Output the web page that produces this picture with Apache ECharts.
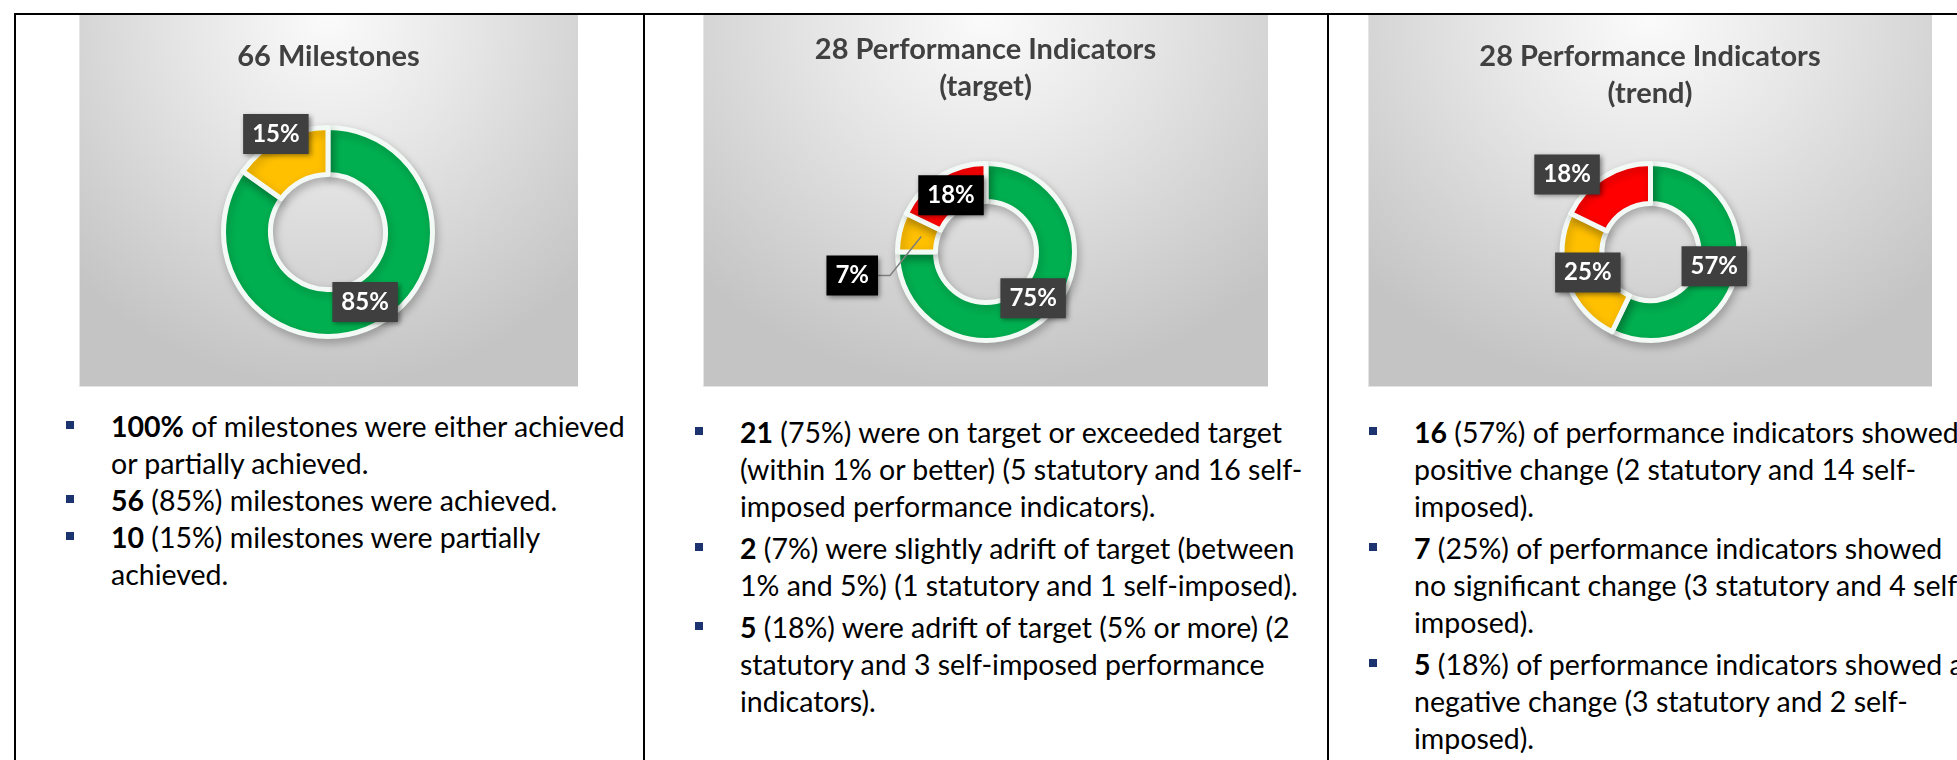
<!DOCTYPE html>
<html>
<head>
<meta charset="utf-8">
<script src="https://cdn.jsdelivr.net/npm/echarts@6/dist/echarts.min.js"></script>
<style>
  html, body { margin: 0; padding: 0; background: #fff; }
  body { width: 1957px; height: 760px; position: relative; overflow: hidden; font-family: Lato, 'Open Sans', sans-serif; }
  .rule { position: absolute; background: #000; }
  .box {
    position: absolute; top: 15px; height: 372px;
    background: radial-gradient(ellipse 72% 100% at 50% 0%, #fbfbfb 0%, #e6e6e6 40%, #d2d2d2 75%, #c4c4c4 100%);
    box-shadow: inset 1px 0 0 #e4e4e4, inset 0 -1px 0 #e4e4e4;
  }
  .notes { position: absolute; font-size: 28.5px; line-height: 37px; color: #000; white-space: nowrap; }
  .notes p { margin: 0 0 5px 0; position: relative; }
  .notes.tight p { margin-bottom: 0; }
  .notes p::before { content: ''; position: absolute; left: -45px; top: 13px; width: 8px; height: 8px; background: #1b3470; }
</style>
</head>
<body>
<div class="rule" style="left:14px; top:13px; width:1943px; height:2px;"></div>
<div class="rule" style="left:14px; top:13px; width:2px; height:747px;"></div>
<div class="rule" style="left:643px; top:13px; width:2px; height:747px;"></div>
<div class="rule" style="left:1327px; top:13px; width:2px; height:747px;"></div>

<div id="c1" class="box" style="left:79px; width:499px;"></div>
<div id="c2" class="box" style="left:703px; width:565px;"></div>
<div id="c3" class="box" style="left:1368px; width:564px;"></div>

<div class="notes tight" style="left:111px; top:408px;">
  <p><b>100%</b> of milestones were either achieved<br>or partially achieved.</p>
  <p><b>56</b> (85%) milestones were achieved.</p>
  <p><b>10</b> (15%) milestones were partially<br>achieved.</p>
</div>
<div class="notes" style="left:740px; top:414px;">
  <p><b>21</b> (75%) were on target or exceeded target<br>(within 1% or better) (5 statutory and 16 self-<br>imposed performance indicators).</p>
  <p><b>2</b> (7%) were slightly adrift of target (between<br>1% and 5%) (1 statutory and 1 self-imposed).</p>
  <p><b>5</b> (18%) were adrift of target (5% or more) (2<br>statutory and 3 self-imposed performance<br>indicators).</p>
</div>
<div class="notes" style="left:1414px; top:414px;">
  <p><b>16</b> (57%) of performance indicators showed<br>positive change (2 statutory and 14 self-<br>imposed).</p>
  <p><b>7</b> (25%) of performance indicators showed<br>no significant change (3 statutory and 4 self-<br>imposed).</p>
  <p><b>5</b> (18%) of performance indicators showed a<br>negative change (3 statutory and 2 self-<br>imposed).</p>
</div>

<script>
const milestoneCats = ['Achieved', 'Partially achieved'];
const milestoneCounts = [56, 10];

const targetCats = ['On or exceeded target', 'Slightly adrift', 'Adrift'];
const targetCounts = [21, 2, 5];

const trendCats = ['Positive change', 'No significant change', 'Negative change'];
const trendCounts = [16, 7, 5];

const sliceColors = ['#00B050', '#FFC000', '#FF0000'];

const boxLabel = {
  formatter: (p) => Math.round(p.percent) + '%',
  color: '#fff',
  fontFamily: 'Lato',
  fontWeight: 'bold',
  fontSize: 24,
  lineHeight: 28,
  backgroundColor: '#3f3f3f',
  padding: [6, 9, 6, 9],
  shadowColor: 'rgba(0,0,0,0.45)',
  shadowBlur: 5,
  shadowOffsetX: 2,
  shadowOffsetY: 2
};

function buildDonut(el, cfg) {
  const chart = echarts.init(el, null, { renderer: 'canvas' });
  const total = cfg.values.reduce((a, b) => a + b, 0);
  const rMid = (cfg.radius[0] + cfg.radius[1]) / 2;

  // put each box where the original has it: slice middle plus a small nudge
  const placeLabel = (p) => {
    const i = p.dataIndex;
    let before = 0;
    for (let k = 0; k < i; k++) before += cfg.values[k];
    const ang = (before + cfg.values[i] / 2) / total * Math.PI * 2;
    const ax = cfg.center[0] + rMid * Math.sin(ang);
    const ay = cfg.center[1] - rMid * Math.cos(ang);
    const x = ax + cfg.nudge[i][0];
    const y = ay + cfg.nudge[i][1];
    const res = { x: x, y: y, align: 'center', verticalAlign: 'middle' };
    if (i === cfg.leader) {
      const edge = x + p.labelRect.width / 2;
      res.labelLinePoints = [[ax + 3, ay], [edge + 12, y], [edge, y]];
    }
    return res;
  };

  const base = {
    type: 'pie',
    center: cfg.center,
    radius: cfg.radius,
    startAngle: 90,
    clockwise: true,
    avoidLabelOverlap: false,
    emphasis: { disabled: true },
    labelLayout: placeLabel
  };

  const series = [Object.assign({}, base, {
    itemStyle: {
      borderColor: '#f3f9f5',
      borderWidth: 5,
      shadowColor: 'rgba(0,0,0,0.22)',
      shadowBlur: 10,
      shadowOffsetX: 2,
      shadowOffsetY: 4
    },
    label: Object.assign({ show: true, position: 'inside' }, boxLabel),
    labelLine: { show: false },
    data: cfg.values.map((v, i) => ({
      name: cfg.names[i],
      value: v,
      itemStyle: { color: sliceColors[i] },
      label: {
        show: i !== cfg.leader,
        backgroundColor: (cfg.boxColors && cfg.boxColors[i]) || boxLabel.backgroundColor
      }
    }))
  })];

  // the leader line has to sit above the ring, so that one label goes on a clear copy on top
  if (cfg.leader != null) {
    series.push(Object.assign({}, base, {
      z: 5,
      silent: true,
      itemStyle: { color: 'rgba(0,0,0,0)', borderWidth: 0 },
      label: Object.assign({ show: false, position: 'outside' }, boxLabel),
      labelLine: { show: false },
      data: cfg.values.map((v, i) => ({
        name: cfg.names[i],
        value: v,
        label: { show: i === cfg.leader, backgroundColor: cfg.boxColors[i] },
        labelLine: { show: i === cfg.leader, lineStyle: { color: '#7f7f7f', width: 1.5 } }
      }))
    }));
  }

  chart.setOption({
    animation: false,
    title: {
      text: cfg.title,
      left: 'center',
      top: cfg.titleTop,
      padding: 0,
      textStyle: { fontFamily: 'Lato', fontWeight: 'bold', fontSize: 29, lineHeight: 37, color: '#404040' }
    },
    series: series
  });
  return chart;
}

const charts = [
  buildDonut(document.getElementById('c1'), {
    title: '66 Milestones',
    titleTop: 23,
    names: milestoneCats,
    values: milestoneCounts,
    center: [249, 217],
    radius: [57.5, 104.5],
    nudge: [[0, -2], [-15, -26]]
  }),
  buildDonut(document.getElementById('c2'), {
    title: '28 Performance Indicators\n(target)',
    titleTop: 16,
    names: targetCats,
    values: targetCounts,
    center: [283, 237],
    radius: [50.5, 88.5],
    nudge: [[-2, -3], [-66, 39], [2, 2]],
    boxColors: [null, '#000', '#000'],
    leader: 1
  }),
  buildDonut(document.getElementById('c3'), {
    title: '28 Performance Indicators\n(trend)',
    titleTop: 23,
    names: trendCats,
    values: trendCounts,
    center: [282.5, 237],
    radius: [48.5, 88.5],
    nudge: [[-3, -1], [2, -2], [-47, -19.5]]
  })
];

window.addEventListener('resize', () => charts.forEach((c) => c.resize()));
</script>
</body>
</html>
